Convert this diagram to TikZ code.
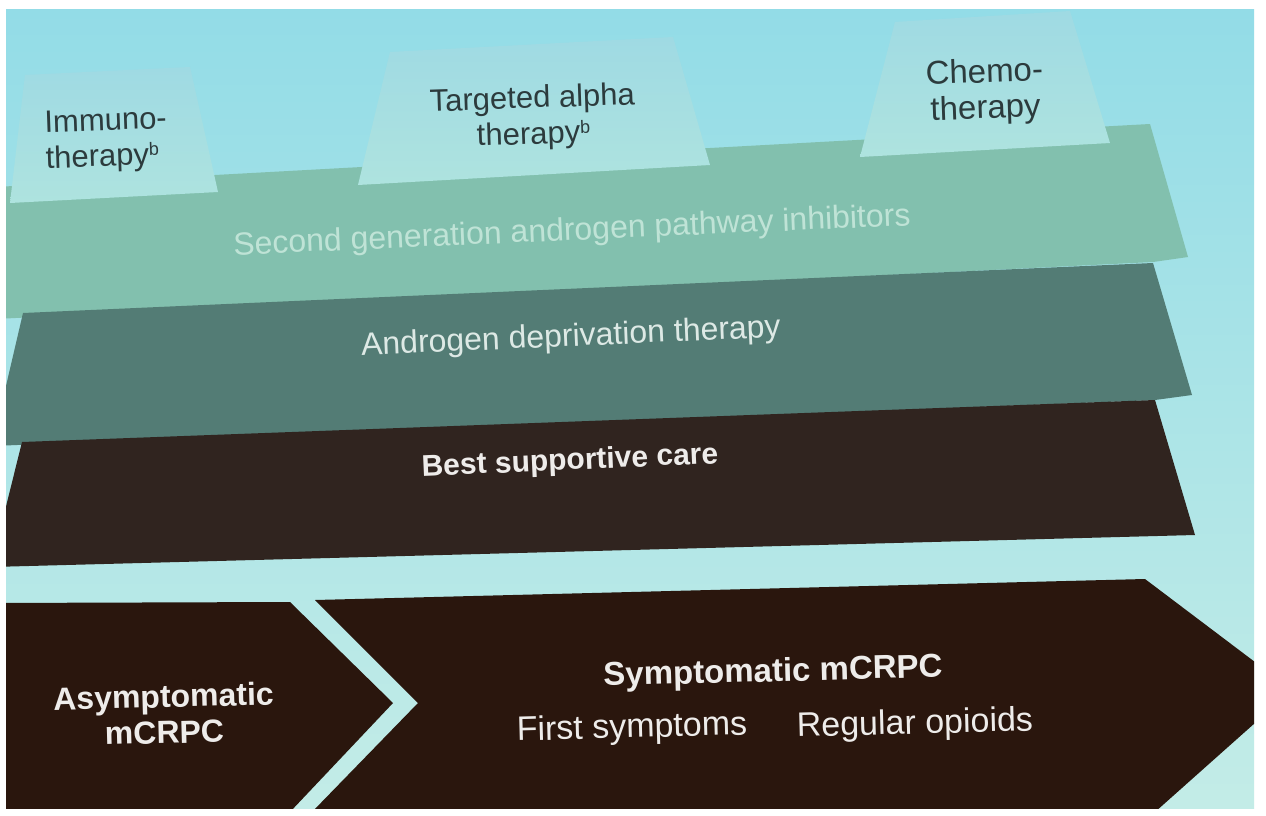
\documentclass[tikz,border=0pt]{standalone}
\usepackage{fontspec}
\setmainfont{Liberation Sans}
\definecolor{bgtop}{HTML}{93DCE7}
\definecolor{bgbot}{HTML}{C3ECE7}
\definecolor{tabtop}{HTML}{9FDAE3}
\definecolor{tabbot}{HTML}{AEE3DF}
\definecolor{sgband}{HTML}{82C0AE}
\definecolor{adtband}{HTML}{537C75}
\definecolor{bscband}{HTML}{30241F}
\definecolor{chevfill}{HTML}{2A160D}
\definecolor{tablabel}{HTML}{2C3B3D}
\definecolor{sgtext}{HTML}{BFE3D6}
\definecolor{adttext}{HTML}{DDE9E5}
\definecolor{lighttext}{HTML}{EEECEA}
\newcommand{\supb}{\raisebox{0.55ex}{\fontsize{18}{18}\selectfont b}}
\tikzset{
  tabshape/.style={top color=tabtop, bottom color=tabbot},
  tablbl/.style={text=tablabel, font=\fontsize{31}{36}\selectfont, inner sep=0pt, rotate=2},
  bandlbl/.style={font=\fontsize{32}{36}\selectfont, inner sep=0pt, rotate=2.5},
  chevlbl/.style={text=lighttext, font=\fontsize{34}{36}\selectfont, inner sep=0pt, rotate=1.5}
}
\begin{document}
\begin{tikzpicture}[x=1pt,y=-1pt]
\useasboundingbox (0,0) rectangle (1266,816);
\fill[white] (0,0) rectangle (1266,816);
\begin{scope}
\clip (6,10) rectangle (1254,808);
\shade[top color=bgtop, bottom color=bgbot] (6,10) rectangle (1254,808);
% bands (each reaches under the next one so that they abut)
\fill[sgband] (-5,187) -- (1150,124) -- (1188,257) -- (1153,262) -- (-25,320) -- cycle;
\fill[adtband] (23,313) -- (1153,263) -- (1192,395) -- (1155,400) -- (-8,446) -- cycle;
\fill[bscband] (22,442) -- (1155,400) -- (1195,535) -- (-9,567) -- cycle;
% tabs
\shade[tabshape] (25,75) -- (190,67) -- (218,192) -- (10,203) -- cycle;
\shade[tabshape] (390,52) -- (673,37) -- (710,165) -- (358,185) -- cycle;
\shade[tabshape] (895,22) -- (1070,11) -- (1110,143) -- (860,157) -- cycle;
% chevrons
\fill[chevfill] (-10,603) -- (290,602) -- (393,703) -- (290,812) -- (-10,812) -- cycle;
\fill[chevfill] (315,600) -- (1145,579) -- (1292,690) -- (1155,812) -- (312,812) -- (418,703) -- cycle;
\end{scope}
% tab labels
\node[tablbl, anchor=west, align=left] (immuno) at (45,143) {Immuno-\\therapy\supb};
\node[tablbl, align=center] (tat) at (533,118) {Targeted alpha\\therapy\supb};
\node[tablbl, align=center, font=\fontsize{33}{36}\selectfont] (chemo) at (985,92) {Chemo-\\therapy};
% band labels
\node[bandlbl, text=sgtext] (sg) at (572,232) {Second generation androgen pathway inhibitors};
\node[bandlbl, text=adttext] (adt) at (571,338) {Androgen deprivation therapy};
\node[bandlbl, text=lighttext, font=\fontsize{30}{34}\selectfont\bfseries] (bsc) at (570,462) {Best supportive care};
% chevron labels
\node[chevlbl, align=center, font=\fontsize{32}{36}\selectfont\bfseries] (asym) at (164,714) {Asymptomatic\\mCRPC};
\node[chevlbl, font=\fontsize{33}{36}\selectfont\bfseries] (sym) at (773,673) {Symptomatic mCRPC};
\node[chevlbl] (first) at (632,729) {First symptoms};
\node[chevlbl] (opioids) at (915,725) {Regular opioids};
\end{tikzpicture}
\end{document}
